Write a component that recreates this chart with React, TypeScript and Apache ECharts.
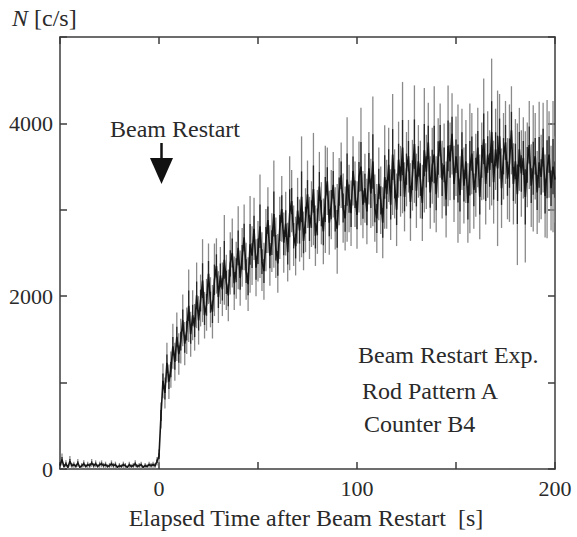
import React, { useEffect, useRef } from "react";
import * as echarts from "echarts";

// Time axis: one sample per second, starting at -50 s
const timeStart = -50;
const timeStep = 1;

// Counts before beam restart (t = -50 .. -1 s)
const preCounts = [
  40, 110, 30, 60, 20, 90, 40, 50, 30, 70,
  20, 40, 60, 30, 50, 40, 70, 40, 60, 30,
  50, 60, 40, 50, 30, 40, 60, 40, 50, 20,
  40, 30, 50, 40, 20, 50, 30, 40, 60, 30,
  40, 50, 20, 40, 30, 50, 40, 50, 40, 90,
];
const preErrors = [
  30, 70, 25, 40, 20, 60, 30, 35, 25, 45,
  20, 30, 40, 25, 35, 30, 45, 30, 40, 25,
  35, 40, 30, 35, 25, 30, 40, 30, 35, 20,
  30, 25, 35, 30, 20, 35, 25, 30, 40, 25,
  30, 35, 20, 30, 25, 35, 30, 35, 30, 50,
];

// Counts after beam restart (t = 0 .. 200 s)
const postCounts = [
  150, 620, 1020, 880, 1230, 1010, 1150, 1420, 1240, 1530,
  1330, 1480, 1720, 1450, 1600, 1890, 1560, 1780, 1640, 2010,
  1720, 1950, 2180, 1780, 1900, 2260, 1930, 1820, 2190, 2350,
  1990, 2240, 2080, 2420, 2160, 2010, 2380, 2500, 2150, 2300,
  2560, 2210, 2450, 2680, 2290, 2140, 2600, 2470, 2780, 2330,
  2520, 2810, 2400, 2290, 2650, 2880, 2470, 2620, 2950, 2560,
  2380, 2790, 3010, 2620, 2840, 2510, 2960, 3100, 2700, 2580,
  2990, 2760, 3150, 2640, 2880, 3180, 2790, 2950, 3240, 2700,
  2860, 3270, 2960, 2750, 3120, 3330, 2850, 3060, 3290, 2900,
  2780, 3210, 3400, 3020, 2900, 3350, 3130, 2960, 3450, 3180,
  2940, 3380, 3500, 3060, 3250, 2980, 3480, 3190, 3560, 3020,
  2900, 3300, 3110, 2850, 3380, 3180, 3520, 3060, 3640, 3300,
  3000, 3580, 3330, 3720, 3150, 3470, 3620, 3090, 3400, 3760,
  3220, 3560, 3350, 3080, 3690, 3440, 3780, 3200, 3510, 3640,
  3180, 3600, 3800, 3350, 3520, 3120, 3740, 3560, 3880, 3300,
  3620, 3420, 3170, 3700, 3280, 3560, 3080, 3480, 3650, 3230,
  3400, 3720, 3150, 3560, 3820, 3300, 3640, 3460, 3900, 3320,
  3700, 3480, 3850, 3250, 3620, 3780, 3360, 3540, 3920, 3300,
  3560, 3180, 3700, 3420, 3600, 3150, 3520, 3750, 3280, 3480,
  3620, 3200, 3550, 3380, 3720, 3160, 3470, 3640, 3250, 3500,
  3350,
];
const postErrors = [
  80, 150, 200, 180, 230, 200, 210, 260, 220, 280,
  240, 260, 300, 250, 270, 420, 260, 290, 270, 380,
  280, 300, 480, 270, 300, 350, 290, 310, 420, 320,
  300, 330, 310, 520, 320, 300, 360, 400, 310, 330,
  480, 320, 340, 380, 330, 310, 560, 340, 360, 330,
  350, 600, 340, 330, 360, 380, 350, 340, 620, 350,
  340, 360, 380, 350, 370, 340, 660, 360, 350, 340,
  380, 360, 700, 340, 370, 390, 360, 380, 650, 350,
  370, 400, 360, 380, 620, 390, 370, 400, 380, 360,
  520, 390, 380, 400, 370, 720, 390, 380, 400, 380,
  390, 410, 680, 390, 400, 380, 420, 400, 750, 390,
  400, 420, 390, 410, 600, 400, 430, 410, 700, 400,
  420, 440, 410, 760, 400, 430, 420, 450, 410, 680,
  430, 420, 450, 440, 720, 430, 460, 420, 440, 790,
  440, 460, 430, 450, 480, 440, 700, 450, 470, 440,
  460, 800, 450, 470, 440, 480, 460, 750, 470, 450,
  480, 460, 490, 450, 700, 470, 500, 460, 850, 480,
  470, 900, 490, 460, 500, 480, 470, 680, 510, 470,
  490, 820, 480, 500, 470, 760, 490, 510, 480, 730,
  500, 480, 700, 490, 520, 480, 800, 500, 490, 760,
  500,
];

// Axes
const xMin = -50;
const xMax = 200;
const xInterval = 50;
const xLabelValues = [0, 100, 200];
const yMin = 0;
const yMax = 5000;
const yInterval = 1000;
const yLabelValues = [0, 2000, 4000];

const SERIF = "Liberation Serif";
const AXIS_COLOR = "#3c3c3c";
const TEXT_COLOR = "#2a2a2a";
const CORE_FRACTION = 0.42; // share of each error bar drawn dark (visual style)

export default function App() {
  const ref = useRef<HTMLDivElement>(null);

  useEffect(() => {
    if (!ref.current) return;
    const chart = echarts.init(ref.current, undefined, { renderer: "svg" });

    const counts = [...preCounts, ...postCounts];
    const errors = [...preErrors, ...postErrors];
    const lineData = counts.map((v, i) => [timeStart + i * timeStep, v]);
    const errData = counts.map((v, i) => [timeStart + i * timeStep, v, errors[i]]);

    const baseX = {
      type: "value" as const,
      min: xMin,
      max: xMax,
      interval: xInterval,
      axisLine: { show: true, onZero: false, lineStyle: { color: AXIS_COLOR, width: 1.5 } },
      axisTick: { show: true, inside: true, length: 7, lineStyle: { color: AXIS_COLOR, width: 1.5 } },
      splitLine: { show: false },
    };
    const baseY = {
      type: "value" as const,
      min: yMin,
      max: yMax,
      interval: yInterval,
      axisLine: { show: true, onZero: false, lineStyle: { color: AXIS_COLOR, width: 1.5 } },
      axisTick: { show: true, inside: true, length: 7, lineStyle: { color: AXIS_COLOR, width: 1.5 } },
      splitLine: { show: false },
    };

    const textStyle = (size: number) => ({
      fontFamily: SERIF,
      fontSize: size,
      fill: TEXT_COLOR,
      textAlign: "left",
      textVerticalAlign: "middle",
    });

    chart.setOption({
      animation: false,
      backgroundColor: "#ffffff",
      textStyle: { fontFamily: SERIF },
      grid: { left: 60, right: 22, top: 37, bottom: 68, containLabel: false },
      xAxis: [
        {
          ...baseX,
          position: "bottom",
          axisLabel: {
            show: true,
            margin: 8,
            color: TEXT_COLOR,
            fontFamily: SERIF,
            fontSize: 22,
            formatter: (v: number) => (xLabelValues.includes(v) ? String(v) : ""),
          },
        },
        { ...baseX, position: "top", axisLabel: { show: false } },
      ],
      yAxis: [
        {
          ...baseY,
          position: "left",
          axisLabel: {
            show: true,
            margin: 7,
            color: TEXT_COLOR,
            fontFamily: SERIF,
            fontSize: 22,
            formatter: (v: number) => (yLabelValues.includes(v) ? String(v) : ""),
          },
        },
        { ...baseY, position: "right", axisLabel: { show: false } },
      ],
      series: [
        {
          type: "custom",
          xAxisIndex: 0,
          yAxisIndex: 0,
          clip: true,
          z: 1,
          encode: { x: 0, y: 1 },
          data: errData,
          renderItem: (_params: any, api: any) => {
            const t = api.value(0);
            const v = api.value(1);
            const e = api.value(2);
            const p1 = api.coord([t, v + e]);
            const p2 = api.coord([t, Math.max(0, v - e)]);
            const c1 = api.coord([t, v + e * CORE_FRACTION]);
            const c2 = api.coord([t, Math.max(0, v - e * CORE_FRACTION)]);
            return {
              type: "group",
              children: [
                {
                  type: "line",
                  shape: { x1: p1[0], y1: p1[1], x2: p2[0], y2: p2[1] },
                  style: { stroke: "#8a8a8a", lineWidth: 1.3 },
                },
                {
                  type: "line",
                  shape: { x1: c1[0], y1: c1[1], x2: c2[0], y2: c2[1] },
                  style: { stroke: "#262626", lineWidth: 1.3 },
                },
              ],
            };
          },
        },
        {
          type: "line",
          xAxisIndex: 0,
          yAxisIndex: 0,
          z: 2,
          data: lineData,
          showSymbol: false,
          symbol: "none",
          lineStyle: { color: "#161616", width: 1.6 },
        },
      ],
      graphic: [
        {
          type: "text",
          x: 12,
          y: 18,
          style: {
            ...textStyle(24),
            text: "{i|N} [c/s]",
            rich: { i: { fontStyle: "italic", fontFamily: SERIF, fontSize: 24, fill: TEXT_COLOR } },
          },
        },
        { type: "text", x: 110, y: 129, style: { ...textStyle(24), text: "Beam Restart" } },
        {
          type: "line",
          shape: { x1: 161.5, y1: 143, x2: 161.5, y2: 160 },
          style: { stroke: "#111", lineWidth: 2.5 },
        },
        {
          type: "polygon",
          shape: { points: [[150, 158], [173, 158], [161.5, 184]] },
          style: { fill: "#111" },
        },
        { type: "text", x: 358, y: 355, style: { ...textStyle(24), text: "Beam Restart Exp." } },
        { type: "text", x: 362, y: 391, style: { ...textStyle(24), text: "Rod Pattern A" } },
        { type: "text", x: 364, y: 424, style: { ...textStyle(24), text: "Counter B4" } },
        {
          type: "text",
          x: 306,
          y: 518,
          style: { ...textStyle(24), text: "Elapsed Time after Beam Restart  [s]", textAlign: "center" },
        },
      ],
    });

    return () => chart.dispose();
  }, []);

  return (
    <div
      ref={ref}
      style={{ position: "fixed", left: 0, top: 0, width: 577, height: 537, background: "#fff" }}
    />
  );
}
